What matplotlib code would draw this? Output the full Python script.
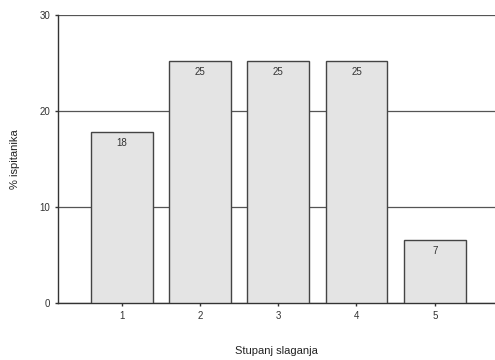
import matplotlib.pyplot as plt

plt.rcParams['font.family'] = ['Liberation Sans', 'DejaVu Sans']

categories = ['1', '2', '3', '4', '5']
values = [17.8, 25.2, 25.2, 25.2, 6.6]
labels = ['18', '25', '25', '25', '7']

fig = plt.figure(figsize=(4.95, 3.6), dpi=100)
ax = fig.add_axes([0.117, 0.158, 0.883, 0.8])

x = range(1, len(categories) + 1)
ax.set_axisbelow(True)
ax.yaxis.grid(True, color='#555555', linewidth=0.9)
bars = ax.bar(x, values, width=0.79, color='#e4e4e4', edgecolor='#444444', linewidth=1.0, zorder=3)

for b, lab in zip(bars, labels):
    ax.text(b.get_x() + b.get_width() / 2, b.get_height() - 0.6, lab,
            ha='center', va='top', fontsize=7, color='#333333', zorder=4)

ax.set_xlim(0.185, 5.77)
ax.set_ylim(0, 30)
ax.set_xticks(list(x))
ax.set_xticklabels(categories)
ax.set_yticks([0, 10, 20, 30])

for s in ['top', 'right']:
    ax.spines[s].set_visible(False)
for s in ['left', 'bottom']:
    ax.spines[s].set_color('#333333')
    ax.spines[s].set_linewidth(1.0)

ax.tick_params(axis='both', labelsize=7, colors='#333333', length=2, width=1)
ax.set_xlabel('Stupanj slaganja', fontsize=8, color='#222222', labelpad=18)
ax.set_ylabel('% ispitanika', fontsize=8, color='#222222', labelpad=14)

fig.savefig('out.png', dpi=100)
